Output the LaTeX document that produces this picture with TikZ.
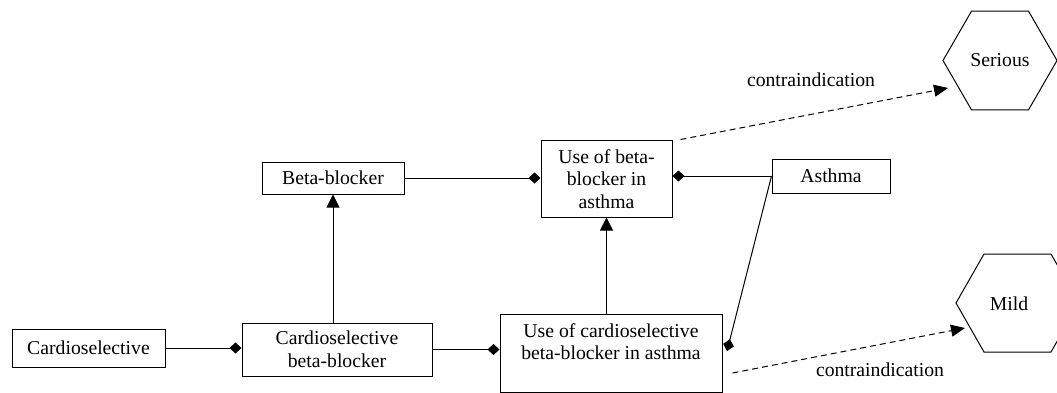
\documentclass[tikz,border=0pt]{standalone}
\usepackage{fontspec}
\setmainfont{Liberation Serif}
\usetikzlibrary{arrows.meta,calc,shapes.geometric}

\begin{document}
\begin{tikzpicture}[x=1pt,y=-1pt,
  every node/.style={font=\fontsize{19.7}{22.5}\selectfont},
  box/.style={draw,line width=1pt,inner sep=0pt,align=center},
  link/.style={line width=1pt},
  part/.style={link,-{Diamond[length=12pt,width=11pt]}},
  isa/.style={link,-{Triangle[length=13pt,width=13pt]}},
  grade/.style={link,dash pattern=on 6pt off 4pt,-{Triangle[length=14pt,width=12pt]}},
]
\useasboundingbox (0,0) rectangle (1057,393);
\clip (0,0) rectangle (1057,393);

% concepts
\node[box,minimum width=153pt,minimum height=38pt] (card) at (88.5,348) {Cardioselective};
\node[box,minimum width=190pt,minimum height=53pt] (cbb) at (337,349.5) {Cardioselective\\beta-blocker};
\node[box,minimum width=142pt,minimum height=32pt] (bb) at (333,178) {Beta-blocker};
\node[box,minimum width=131pt,minimum height=76pt] (ubb) at (606.5,179) {Use of beta-\\blocker in\\asthma};
\node[box,minimum width=118pt,minimum height=34pt] (asthma) at (831,176) {Asthma};
\node[box,minimum width=222pt,minimum height=78pt] (ucs) at (611,353) {Use of cardioselective\\beta-blocker in asthma\\\mbox{}};

% severity grades
\node[draw,line width=1pt,regular polygon,regular polygon sides=6,minimum size=114pt,inner sep=0pt] (serious) at (1000,60.5) {Serious};
\node (mild) at (1009,304) {Mild};
\draw[link] (956,303) -- (984,254) -- (1051,254) -- (1079,303) -- (1051,352) -- (984,352) -- cycle;

% composition links
\draw[part] (card.east) -- (card.east -| cbb.west);
\draw[part] (bb.east) -- (bb.east -| ubb.west);
\draw[part] (cbb.east) -- (cbb.east -| ucs.west);
\draw[part] (asthma.west) -- (asthma.west -| ubb.east);
\coordinate (ucsjoin) at ($(ucs.east)+(4.5,-2)$);
\draw[part] (asthma.west) -- (ucsjoin);

% subsumption links
\draw[isa] (cbb.north -| bb.south) -- (bb.south);
\draw[isa] (ucs.north -| ubb.south) -- (ubb.south);

% contraindication links
\coordinate (s1) at ($(ubb.north east)+(8,-1)$);
\coordinate (e1) at ($(serious.center)+(-52,27.5)$);
\draw[grade] (s1) -- (e1);
\node (lab1) at (811,80) {contraindication};
\coordinate (s2) at ($(ucs.east)+(10,20)$);
\coordinate (e2) at ($(mild)+(-44,24)$);
\draw[grade] (s2) -- (e2);
\node (lab2) at (880,370) {contraindication};
\end{tikzpicture}
\end{document}
